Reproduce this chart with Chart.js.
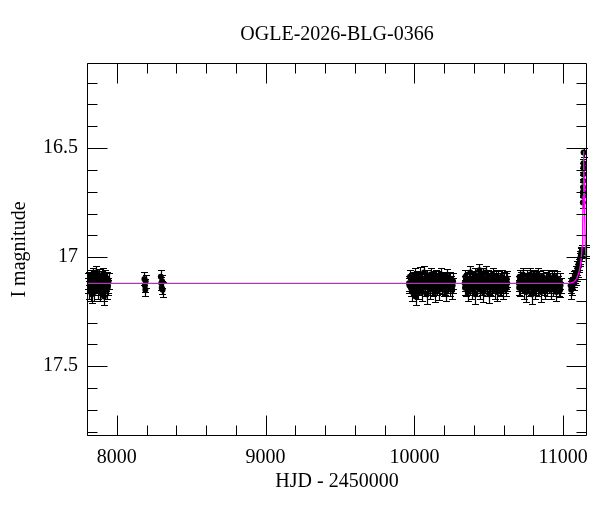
<!DOCTYPE html>
<html>
<head>
<meta charset="utf-8">
<title>OGLE-2026-BLG-0366</title>
<script src="https://cdn.jsdelivr.net/npm/chart.js@4.4.0/dist/chart.umd.min.js"></script>
<style>
    html, body { margin: 0; padding: 0; background: #fff; }
</style>
</head>
<body>
<canvas id="lightCurve" width="600" height="512"></canvas>
<script>
/* ================================
   OGLE LIGHT CURVE - DATA
   ================================ */

// Observations per season: [HJD - 2450000, I mag, error]
const season7800 = [
    [7806,17.13,0.035],[7811,17.10,0.03],[7815,17.15,0.04],[7820,17.12,0.035],[7824,17.09,0.03],
    [7829,17.16,0.04],[7832,17.17,0.04],[7838,17.14,0.035],[7842,17.08,0.03],[7846,17.12,0.03],
    [7850,17.16,0.04],[7855,17.10,0.035],[7859,17.13,0.035],[7863,17.07,0.03],[7868,17.12,0.035],
    [7872,17.15,0.04],[7876,17.11,0.03],[7880,17.09,0.035],[7885,17.14,0.035],[7889,17.16,0.04],
    [7893,17.12,0.03],[7898,17.10,0.035],[7902,17.13,0.035],[7906,17.08,0.03],[7911,17.16,0.04],
    [7914,17.18,0.04],[7919,17.14,0.035],[7924,17.09,0.03],[7928,17.12,0.035],[7933,17.15,0.04],
    [7937,17.10,0.03],[7941,17.13,0.035],[7945,17.11,0.035],
    [7809,17.11,0.035],[7826,17.13,0.035],[7853,17.11,0.035],[7870,17.13,0.035],[7896,17.14,0.035],
    [7917,17.11,0.035],[7939,17.14,0.035]
];
const season8190 = [
    [8186,17.10,0.03],[8189,17.13,0.03],[8192,17.15,0.03],[8194,17.11,0.03]
];
const season8300 = [
    [8296,17.09,0.03],[8299,17.12,0.03],[8302,17.14,0.03],[8305,17.11,0.03],[8308,17.15,0.035]
];
const season10100 = [
    [9964,17.12,0.035],[9970,17.09,0.03],[9976,17.14,0.04],[9981,17.11,0.035],[9987,17.16,0.04],
    [9993,17.10,0.03],[9998,17.13,0.035],[10004,17.08,0.03],[10008,17.18,0.04],[10014,17.12,0.035],
    [10020,17.10,0.035],[10025,17.15,0.04],[10031,17.11,0.03],[10037,17.08,0.035],[10042,17.13,0.035],
    [10048,17.16,0.04],[10054,17.10,0.03],[10059,17.12,0.035],[10065,17.07,0.03],[10071,17.14,0.04],
    [10076,17.11,0.035],[10082,17.17,0.045],[10088,17.09,0.03],[10093,17.13,0.035],[10099,17.11,0.035],
    [10105,17.15,0.04],[10110,17.08,0.03],[10116,17.12,0.035],[10122,17.10,0.03],[10127,17.14,0.04],
    [10133,17.12,0.035],[10139,17.16,0.045],[10144,17.09,0.03],[10150,17.11,0.035],[10156,17.13,0.035],
    [10161,17.10,0.035],[10167,17.15,0.045],[10173,17.12,0.035],[10178,17.08,0.03],[10184,17.13,0.04],
    [10190,17.11,0.035],[10196,17.14,0.04],[10201,17.10,0.03],[10207,17.12,0.035],[10213,17.16,0.04],
    [10218,17.09,0.035],[10224,17.13,0.035],[10230,17.11,0.035],[10236,17.14,0.04],[10242,17.10,0.03],
    [10248,17.12,0.035],[10254,17.15,0.04],[10260,17.11,0.035],
    [9967,17.13,0.035],[9984,17.12,0.035],[10001,17.14,0.035],[10017,17.13,0.035],[10034,17.14,0.035],
    [10051,17.12,0.035],[10068,17.11,0.035],[10085,17.13,0.035],[10102,17.12,0.035],[10119,17.14,0.035],
    [10136,17.10,0.035],[10153,17.14,0.035],[10170,17.11,0.035],[10187,17.12,0.035],[10204,17.14,0.035],
    [10221,17.12,0.035],[10239,17.13,0.035],[10257,17.13,0.035]
];
const season10480 = [
    [10338,17.12,0.035],[10343,17.09,0.03],[10349,17.14,0.04],[10354,17.11,0.035],[10360,17.16,0.04],
    [10365,17.10,0.03],[10371,17.13,0.035],[10376,17.07,0.03],[10382,17.12,0.035],[10387,17.15,0.04],
    [10393,17.10,0.035],[10398,17.13,0.035],[10404,17.08,0.03],[10409,17.17,0.045],[10415,17.11,0.035],
    [10420,17.14,0.04],[10426,17.09,0.03],[10431,17.12,0.035],[10437,17.06,0.03],[10442,17.15,0.04],
    [10448,17.11,0.035],[10453,17.13,0.035],[10459,17.08,0.03],[10464,17.16,0.045],[10470,17.10,0.035],
    [10475,17.12,0.035],[10481,17.07,0.03],[10486,17.14,0.04],[10492,17.11,0.035],[10497,17.09,0.03],
    [10503,17.17,0.04],[10508,17.12,0.035],[10514,17.10,0.035],[10519,17.14,0.04],[10525,17.08,0.03],
    [10530,17.13,0.035],[10536,17.11,0.035],[10541,17.15,0.04],[10547,17.09,0.03],[10552,17.12,0.035],
    [10558,17.16,0.04],[10563,17.10,0.035],[10569,17.13,0.035],[10574,17.11,0.035],[10580,17.14,0.04],
    [10586,17.09,0.03],[10591,17.12,0.035],[10597,17.15,0.04],[10602,17.10,0.03],[10608,17.13,0.035],
    [10614,17.11,0.035],[10619,17.14,0.04],[10624,17.12,0.035],
    [10340,17.14,0.035],[10357,17.12,0.035],[10373,17.14,0.035],[10390,17.12,0.035],[10406,17.13,0.035],
    [10423,17.11,0.035],[10440,17.13,0.035],[10456,17.14,0.035],[10473,17.13,0.035],[10489,17.12,0.035],
    [10506,17.14,0.035],[10522,17.12,0.035],[10539,17.13,0.035],[10555,17.11,0.035],[10572,17.14,0.035],
    [10588,17.13,0.035],[10605,17.12,0.035],[10621,17.10,0.035]
];
const season10840 = [
    [10702,17.12,0.035],[10707,17.09,0.03],[10713,17.14,0.04],[10718,17.10,0.03],[10724,17.13,0.035],
    [10729,17.08,0.03],[10735,17.15,0.04],[10740,17.11,0.035],[10746,17.12,0.035],[10751,17.16,0.045],
    [10757,17.09,0.03],[10762,17.13,0.035],[10768,17.11,0.035],[10773,17.14,0.04],[10779,17.08,0.03],
    [10784,17.12,0.035],[10790,17.17,0.045],[10795,17.10,0.035],[10801,17.13,0.035],[10806,17.09,0.03],
    [10812,17.15,0.04],[10817,17.11,0.035],[10823,17.12,0.035],[10828,17.08,0.03],[10834,17.14,0.04],
    [10839,17.10,0.035],[10845,17.13,0.035],[10850,17.16,0.045],[10856,17.11,0.035],[10861,17.09,0.03],
    [10867,17.13,0.035],[10872,17.12,0.035],[10878,17.15,0.04],[10883,17.10,0.03],[10889,17.12,0.035],
    [10894,17.14,0.04],[10900,17.09,0.03],[10905,17.13,0.035],[10911,17.11,0.035],[10916,17.15,0.04],
    [10922,17.10,0.035],[10927,17.12,0.035],[10933,17.14,0.04],[10938,17.09,0.03],[10944,17.13,0.035],
    [10949,17.11,0.035],[10955,17.16,0.04],[10960,17.10,0.035],[10966,17.12,0.035],[10971,17.14,0.04],
    [10977,17.11,0.035],[10982,17.13,0.035],
    [10704,17.14,0.035],[10721,17.12,0.035],[10737,17.13,0.035],[10754,17.12,0.035],[10770,17.13,0.035],
    [10787,17.14,0.035],[10803,17.11,0.035],[10820,17.14,0.035],[10836,17.12,0.035],[10853,17.13,0.035],
    [10869,17.14,0.035],[10886,17.13,0.035],[10902,17.12,0.035],[10919,17.13,0.035],[10935,17.12,0.035],
    [10952,17.13,0.035],[10968,17.12,0.035],[10980,17.15,0.035]
];
const season11100 = [
    [11050,17.13,0.035],[11054,17.15,0.04],[11058,17.11,0.035],[11062,17.14,0.035],[11066,17.12,0.03],
    [11071,17.10,0.035],[11075,17.12,0.03],[11079,17.09,0.03],[11084,17.10,0.03],[11088,17.07,0.03],
    [11092,17.08,0.03],[11096,17.05,0.03],[11100,17.06,0.03],[11104,17.03,0.03],[11108,17.04,0.03],
    [11112,17.01,0.03],[11116,17.00,0.03],[11119,16.99,0.03],[11122,16.98,0.025],[11125,16.97,0.025],
    [11132,16.75,0.025],[11133,16.72,0.025],[11133.5,16.70,0.025],[11134,16.68,0.025],[11134.5,16.65,0.025],
    [11135,16.62,0.02],[11135.5,16.59,0.02],[11136,16.57,0.02],[11137,16.52,0.02],
    [11150,16.97,0.025],[11153,16.98,0.025]
];

// Model curve
const modelHjd = [7800, 11040, 11070, 11090, 11105, 11115, 11122, 11127, 11131, 11134, 11136, 11137.5, 11139, 11141, 11144, 11148, 11153, 11160];
const modelMag = [17.12, 17.12, 17.115, 17.10, 17.07, 17.04, 17.00, 16.95, 16.85, 16.72, 16.60, 16.515, 16.55, 16.65, 16.80, 16.93, 17.00, 17.07];

// Axes
const xTicks = [8000, 9000, 10000, 11000];
const yTicks = [16.5, 17, 17.5];
const xRange = [7800, 11160];
const yRange = [16.11, 17.82];

/* ================================
   CHART
   ================================ */

const allObs = [].concat(season7800, season8190, season8300, season10100, season10480, season10840, season11100);

// Error bars, drawn under the points
const errorBars = {
    id: 'errorBars',
    beforeDatasetsDraw(chart) {
        const ctx = chart.ctx;
        const x = chart.scales.x;
        const y = chart.scales.y;
        const data = chart.data.datasets[1].data;
        ctx.save();
        ctx.strokeStyle = '#000';
        ctx.lineWidth = 1.2;
        ctx.beginPath();
        data.forEach(function(p) {
            const px = Math.round(x.getPixelForValue(p.x)) + 0.5;
            const top = Math.round(y.getPixelForValue(p.y - p.err)) + 0.5;
            const bot = Math.round(y.getPixelForValue(p.y + p.err)) + 0.5;
            ctx.moveTo(px, top); ctx.lineTo(px, bot);
            ctx.moveTo(px - 3.5, top); ctx.lineTo(px + 3.5, top);
            ctx.moveTo(px - 3.5, bot); ctx.lineTo(px + 3.5, bot);
        });
        ctx.stroke();
        ctx.restore();
    }
};

// Frame and inward ticks on all four sides
const frameTicks = {
    id: 'frameTicks',
    afterDraw(chart) {
        const ctx = chart.ctx;
        const a = chart.chartArea;
        const x = chart.scales.x;
        const y = chart.scales.y;
        const L = Math.round(a.left) + 0.5, R = Math.round(a.right) - 0.5;
        const T = Math.round(a.top) + 0.5, B = Math.round(a.bottom) - 0.5;
        ctx.save();
        ctx.strokeStyle = '#000';
        ctx.lineWidth = 1;
        ctx.beginPath();
        ctx.rect(L, T, R - L, B - T);
        for (let v = 7800; v <= xRange[1]; v += 200) {
            const px = Math.round(x.getPixelForValue(v)) + 0.5;
            const len = (v % 1000 === 0) ? 20 : 10;
            ctx.moveTo(px, B); ctx.lineTo(px, B - len);
            ctx.moveTo(px, T); ctx.lineTo(px, T + len);
        }
        for (let i = 162; i <= 178; i++) {
            const v = i / 10;
            const py = Math.round(y.getPixelForValue(v)) + 0.5;
            const len = (i % 5 === 0) ? 20 : 10;
            ctx.moveTo(L, py); ctx.lineTo(L + len, py);
            ctx.moveTo(R, py); ctx.lineTo(R - len, py);
        }
        ctx.stroke();
        ctx.restore();
    }
};

Chart.defaults.font.family = '"Liberation Serif", "Times New Roman", serif';
Chart.defaults.font.size = 20;
Chart.defaults.color = '#000';

new Chart(document.getElementById('lightCurve'), {
    type: 'scatter',
    data: {
        datasets: [{
            label: 'model',
            data: modelHjd.map(function(t, i) { return { x: t, y: modelMag[i] }; }),
            showLine: true,
            borderColor: '#ff00ff',
            borderWidth: 1.3,
            pointRadius: 0,
            tension: 0
        }, {
            label: 'OGLE I',
            data: allObs.map(function(o) { return { x: o[0], y: o[1], err: o[2] }; }),
            pointRadius: 3,
            pointBackgroundColor: '#000',
            pointBorderWidth: 0
        }]
    },
    options: {
        responsive: false,
        animation: false,
        layout: { padding: { top: 0, right: 13, bottom: 0, left: 0 } },
        plugins: {
            legend: { display: false },
            tooltip: { enabled: false },
            title: {
                display: true,
                text: 'OGLE-2026-BLG-0366',
                fullSize: false,
                color: '#000',
                font: { size: 20, weight: 'normal' },
                padding: { top: 23, bottom: 16 }
            }
        },
        scales: {
            x: {
                type: 'linear',
                min: xRange[0],
                max: xRange[1],
                grid: { display: false, drawTicks: false },
                border: { display: false },
                ticks: { padding: 10, callback: function(v) { return String(v); } },
                afterBuildTicks: function(s) { s.ticks = xTicks.map(function(v) { return { value: v }; }); },
                afterFit: function(s) { s.height = 76; },
                title: { display: true, text: 'HJD - 2450000', padding: { top: 0, bottom: 18 } }
            },
            y: {
                type: 'linear',
                reverse: true,
                min: yRange[0],
                max: yRange[1],
                grid: { display: false, drawTicks: false },
                border: { display: false },
                ticks: { padding: 9, callback: function(v) { return String(v); } },
                afterBuildTicks: function(s) { s.ticks = yTicks.map(function(v) { return { value: v }; }); },
                afterFit: function(s) { s.width = 87; },
                title: { display: true, text: 'I magnitude', padding: { top: 8, bottom: 0 } }
            }
        }
    },
    plugins: [errorBars, frameTicks]
});
</script>
</body>
</html>
